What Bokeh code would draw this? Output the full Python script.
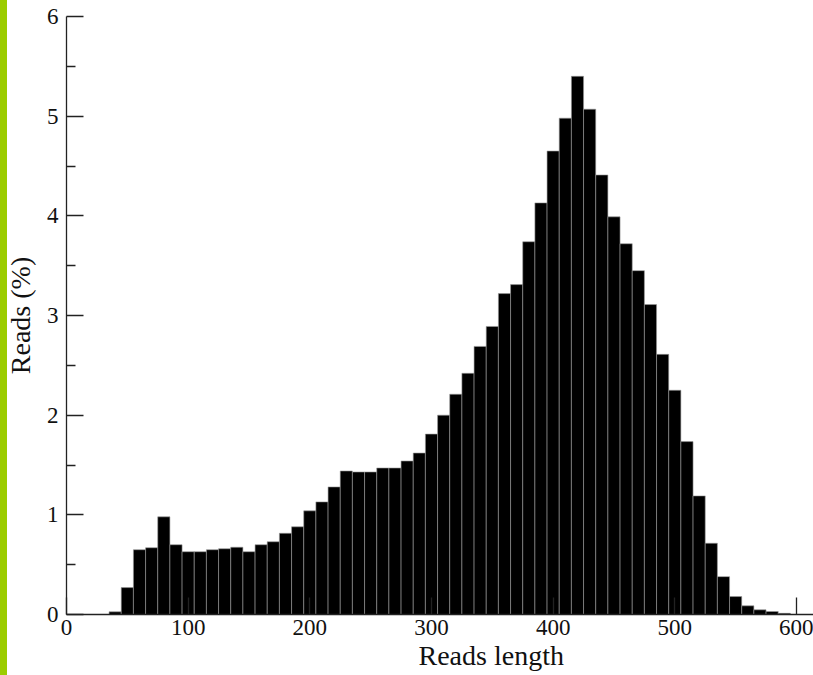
from bokeh.plotting import figure
from bokeh.models import Range1d, FixedTicker, Title
from bokeh.embed import file_html
from bokeh.resources import INLINE

# Bin centres (read length, bin width 10) and share of reads (%)
bin_centers = [40, 50, 60, 70, 80, 90, 100, 110, 120, 130, 140, 150, 160, 170, 180, 190,
               200, 210, 220, 230, 240, 250, 260, 270, 280, 290, 300, 310, 320, 330, 340,
               350, 360, 370, 380, 390, 400, 410, 420, 430, 440, 450, 460, 470, 480, 490,
               500, 510, 520, 530, 540, 550, 560, 570, 580, 590]
reads_pct = [0.027, 0.27, 0.65, 0.67, 0.98, 0.70, 0.63, 0.63, 0.65, 0.66, 0.675, 0.63,
             0.70, 0.73, 0.815, 0.88, 1.04, 1.13, 1.28, 1.44, 1.43, 1.43, 1.47, 1.47,
             1.54, 1.62, 1.81, 2.00, 2.21, 2.42, 2.69, 2.89, 3.22, 3.31, 3.74, 4.13,
             4.65, 4.98, 5.40, 5.07, 4.41, 3.99, 3.72, 3.45, 3.11, 2.61, 2.25, 1.735,
             1.19, 0.715, 0.38, 0.18, 0.087, 0.047, 0.03, 0.012]
bin_width = 10

x_ticks = [0, 100, 200, 300, 400, 500, 600]
y_ticks = [0, 1, 2, 3, 4, 5, 6]
y_minor = [0.5, 1.5, 2.5, 3.5, 4.5, 5.5]

FONT = "Liberation Serif"

p = figure(width=813, height=675, output_backend="svg", toolbar_location=None,
           x_range=Range1d(0, 614.0), y_range=Range1d(0, 6),
           min_border_left=66, min_border_right=0, min_border_top=16, min_border_bottom=61,
           styles={"background": "linear-gradient(to right, #9bcc00 7px, #ffffff 7px)"})
p.outline_line_color = None
p.xgrid.visible = False
p.ygrid.visible = False
p.background_fill_color = "white"
p.border_fill_color = None

p.vbar(x=bin_centers, top=reads_pct, width=bin_width, bottom=0,
       fill_color="black", line_color="#9a9a9a", line_width=0.6)

for ax in (p.xaxis[0], p.yaxis[0]):
    ax.axis_line_color = "#222222"
    ax.axis_line_width = 1.3
    ax.major_tick_line_color = "#222222"
    ax.major_tick_line_width = 1.3
    ax.minor_tick_line_color = "#222222"
    ax.minor_tick_line_width = 1.3
    ax.major_tick_in = 17
    ax.major_tick_out = 0
    ax.minor_tick_in = 9
    ax.minor_tick_out = 0
    ax.major_label_text_font = FONT
    ax.major_label_text_font_size = "23px"
    ax.major_label_text_color = "#111111"
    ax.major_label_standoff = 8

p.xaxis[0].ticker = FixedTicker(ticks=x_ticks)
p.xaxis[0].major_label_standoff = 5
p.yaxis[0].ticker = FixedTicker(ticks=y_ticks, minor_ticks=y_minor)

p.yaxis[0].axis_label = "Reads (%)"
p.yaxis[0].axis_label_text_font = FONT
p.yaxis[0].axis_label_text_font_size = "28px"
p.yaxis[0].axis_label_text_font_style = "normal"
p.yaxis[0].axis_label_text_color = "#111111"
p.yaxis[0].axis_label_standoff = 8

p.add_layout(Title(text="Reads length", align="left", offset=352, standoff=0,
                   text_font=FONT, text_font_size="28px", text_font_style="normal",
                   text_color="#111111"), "below")

open("out.html", "w").write(file_html(p, INLINE))
